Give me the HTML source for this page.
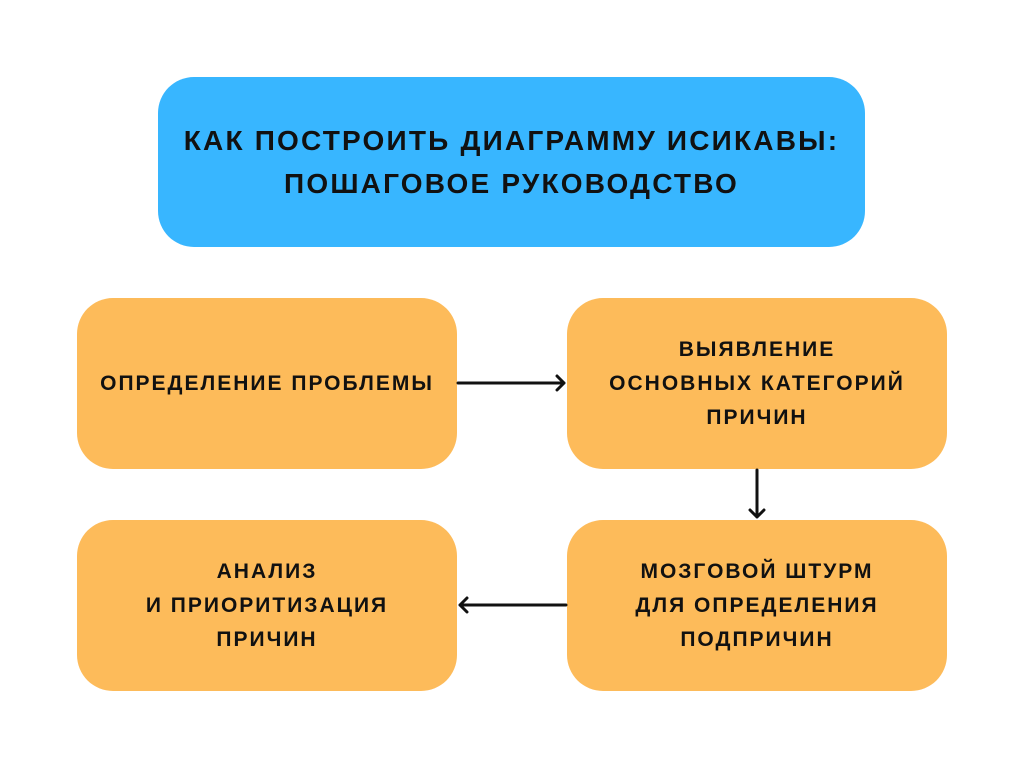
<!DOCTYPE html>
<html><head><meta charset="utf-8"><style>
body{margin:0;width:1024px;height:768px;background:#fff;position:relative;overflow:hidden;font-family:"Liberation Sans","DejaVu Sans",sans-serif;}
.b{position:absolute;border-radius:36px;display:flex;align-items:center;justify-content:center;text-align:center;font-weight:bold;color:#111;text-transform:uppercase;}
.t{left:158px;top:77px;width:707px;height:170px;background:#38b6ff;font-size:28px;line-height:43px;letter-spacing:2.2px;}
.o{width:380px;height:171px;background:#fdbb5a;font-size:21px;line-height:34px;letter-spacing:2px;}
svg{position:absolute;left:0;top:0;}
</style></head><body>
<div class="b t"><div>Как построить диаграмму Исикавы:<br>пошаговое руководство</div></div>
<div class="b o" style="left:77px;top:298px"><div>Определение проблемы</div></div>
<div class="b o" style="left:567px;top:298px"><div>Выявление<br>основных категорий<br>причин</div></div>
<div class="b o" style="left:77px;top:520px"><div>Анализ<br>и приоритизация<br>причин</div></div>
<div class="b o" style="left:567px;top:520px"><div>Мозговой штурм<br>для определения<br>подпричин</div></div>
<svg width="1024" height="768" fill="none" stroke="#111" stroke-width="3" stroke-linecap="round" stroke-linejoin="round">
<path d="M458 383H564M557 376L564 383L557 390"/>
<path d="M757 470V517M750 510L757 517L764 510"/>
<path d="M566 605H460M467 598L460 605L467 612"/>
</svg>
</body></html>
